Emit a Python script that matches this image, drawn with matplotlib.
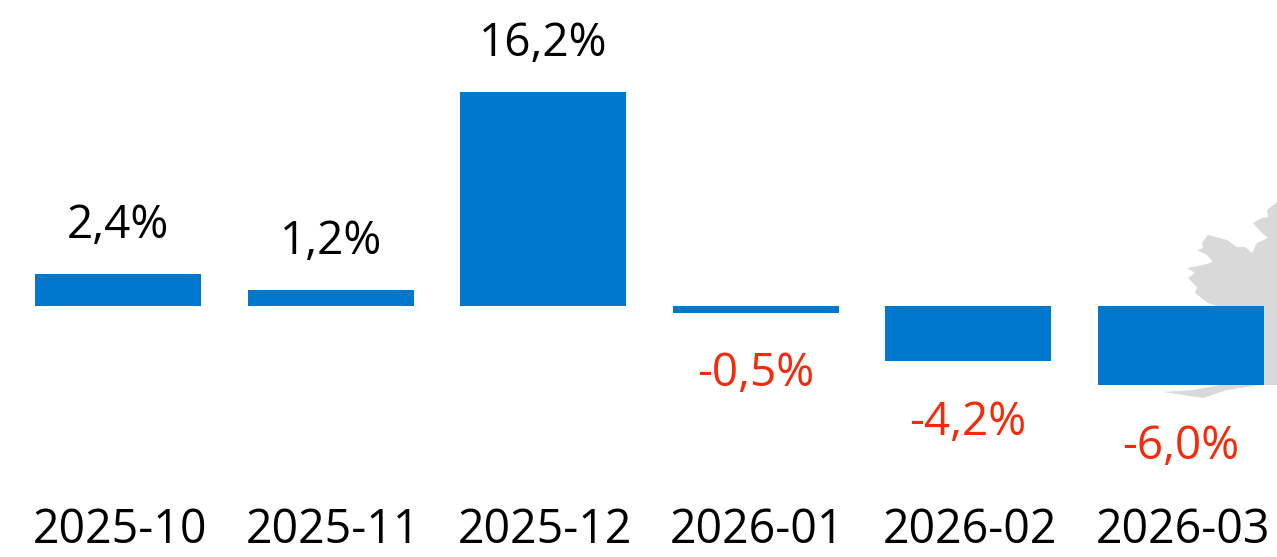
import numpy as np
import matplotlib.pyplot as plt
from matplotlib.patches import Polygon

months = ['2025-10', '2025-11', '2025-12', '2026-01', '2026-02', '2026-03']
changes = [2.4, 1.2, 16.2, -0.5, -4.2, -6.0]
labels = ['2,4%', '1,2%', '16,2%', '-0,5%', '-4,2%', '-6,0%']

# grey map outline behind the last bar, in pixels of the picture
map_x = [1277, 1267, 1268, 1262, 1253, 1262, 1268, 1257, 1252, 1245, 1237, 1227, 1208, 1202, 1203, 1197,
         1207, 1213, 1203, 1187, 1195, 1188, 1197, 1195, 1208, 1220, 1232, 1277]
map_y = [202, 210, 217, 218, 223, 233, 238, 243, 253, 247, 247, 240, 235, 243, 248, 250,
         255, 262, 265, 268, 273, 278, 287, 293, 303, 307, 340, 340]
south_x = [1277, 1260, 1220, 1193, 1163, 1177, 1203, 1227, 1260, 1277]
south_y = [375, 380, 385, 390, 392, 394, 398, 390, 385, 380]

plt.rcParams['font.family'] = ['Open Sans', 'DejaVu Sans']

W, H = 1277, 557
fig = plt.figure(figsize=(W / 100, H / 100), dpi=100)
ax = fig.add_axes([0, 0, 1, 1])
ax.axis('off')

# y scale: zero at pixel 306, 13.2 px per percent
ppp = 13.2
ax.set_ylim(-(H - 306) / ppp, 306 / ppp)
# x scale: bars 212.5 px apart, first centre at 118
step = 212.5
ax.set_xlim(-118 / step, (W - 118) / step)


def to_data(px, py):
    return list(zip((np.array(px) - 118) / step, (306 - np.array(py)) / ppp))


ax.add_patch(Polygon(to_data(map_x, map_y), color='#d9d9d9', lw=0, zorder=0))
ax.add_patch(Polygon(to_data(south_x, south_y), color='#d9d9d9', lw=0, zorder=0))
ax.add_patch(Polygon(to_data([1232, 1277, 1277, 1232], [300, 300, 385, 385]), color='#d9d9d9', lw=0, zorder=0))

x = np.arange(len(months))
ax.bar(x, changes, width=166 / step, color='#0078cd', zorder=2)

for i in range(len(months)):
    v = changes[i]
    if v >= 0:
        ax.text(i, v + 3.65, labels[i], ha='center', va='center', fontsize=33, color='black')
    else:
        ax.text(i, v - 4.65, labels[i], ha='center', va='center', fontsize=33, color='#f52a0a')
    ax.text(i + 2 / step, (306 - 530) / ppp, months[i], ha='center', va='center', fontsize=33.5, color='black')

fig.savefig('out.png', dpi=100)
